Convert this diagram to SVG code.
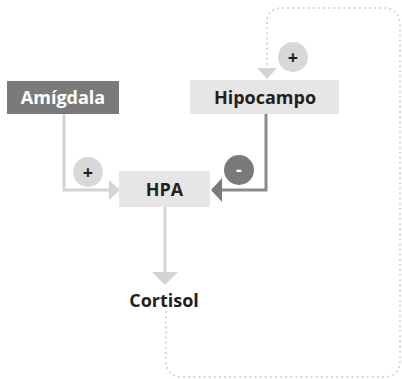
<svg xmlns="http://www.w3.org/2000/svg" width="402" height="379" viewBox="0 0 402 379">
<style>
.lbl{font-family:"Open Sans","Liberation Sans",sans-serif;font-weight:bold;font-size:18px;text-anchor:middle;fill:#231f20}
.sign{font-family:"Open Sans","Liberation Sans",sans-serif;font-weight:bold;font-size:18px;text-anchor:middle}
.light{fill:#e6e6e7}
.dark{fill:#7a7a7b}
</style>
<rect width="402" height="379" fill="#ffffff"/>
<g id="connectors">
  <path d="M64 114 V190 H110" fill="none" stroke="#d4d4d5" stroke-width="3"/>
  <polygon points="120,190 109,180 109,200" fill="#d4d4d5"/>
  <path d="M266 114 V190 H221" fill="none" stroke="#8b8b8c" stroke-width="3"/>
  <polygon points="211,190 222,178 222,202" fill="#7a7a7b"/>
  <path d="M165 207 V273" fill="none" stroke="#d4d4d5" stroke-width="3"/>
  <polygon points="152,272 178,272 165,285" fill="#d4d4d5"/>
  <path d="M166 312 V360 Q166 377 183 377 H383 Q400 377 400 360 V25 Q400 8 383 8 H282 Q267 8 267 23 V69" fill="none" stroke="#cfcfd0" stroke-width="2" stroke-dasharray="0.1 5" stroke-linecap="round"/>
  <polygon points="257,68 277,68 267,79" fill="#d4d4d5"/>
</g>
<g id="amigdala">
  <rect x="7" y="81" width="112" height="33" class="dark"/>
  <text x="63" y="104" class="lbl" style="fill:#ffffff">Amígdala</text>
</g>
<g id="hipocampo">
  <rect x="190" y="80" width="149" height="34" class="light"/>
  <text x="265" y="104" class="lbl">Hipocampo</text>
</g>
<g id="hpa">
  <rect x="119" y="171" width="91" height="36" class="light"/>
  <text x="164.5" y="196" class="lbl">HPA</text>
</g>
<g id="cortisol">
  <text x="164" y="307" class="lbl">Cortisol</text>
</g>
<g id="sign-amigdala">
  <circle cx="88" cy="172" r="15" fill="#d8d8d9"/>
  <text x="88" y="178.5" class="sign" fill="#231f20">+</text>
</g>
<g id="sign-hipocampo">
  <circle cx="293" cy="57" r="15" fill="#d8d8d9"/>
  <text x="293" y="63.5" class="sign" fill="#231f20">+</text>
</g>
<g id="sign-hpa">
  <circle cx="239" cy="170" r="15" fill="#7a7a7b"/>
  <text x="239" y="176" class="sign" fill="#ffffff">-</text>
</g>
</svg>
